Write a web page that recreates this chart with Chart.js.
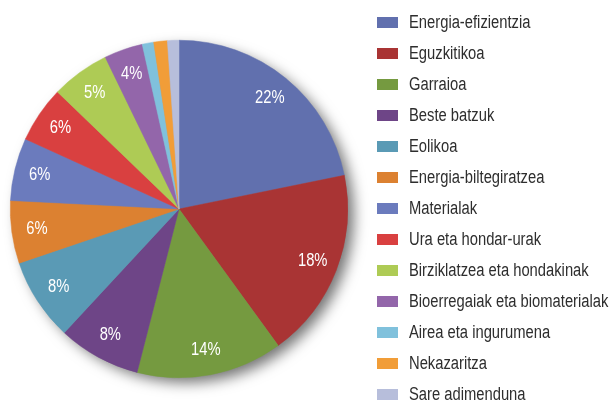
<!DOCTYPE html>
<html>
<head>
<meta charset="utf-8">
<script src="https://cdn.jsdelivr.net/npm/chart.js@4"></script>
<style>
  html, body { margin: 0; padding: 0; background: #fff; }
  #wrap { width: 611px; height: 403px; position: relative; }
</style>
</head>
<body>
<div id="wrap"><canvas id="pie"></canvas></div>
<script>
// categories (legend order = slice order, clockwise from 12 o'clock)
const categories = [
  "Energia-efizientzia", "Eguzkitikoa", "Garraioa", "Beste batzuk", "Eolikoa",
  "Energia-biltegiratzea", "Materialak", "Ura eta hondar-urak",
  "Birziklatzea eta hondakinak", "Bioerregaiak eta biomaterialak",
  "Airea eta ingurumena", "Nekazaritza", "Sare adimenduna"
];
// slice shares (%)
const shares = [21.8, 18.2, 14, 7.9, 7.9, 6, 6, 5.4, 5.6, 3.7, 1.1, 1.3, 1.1];
// printed labels on the slices
const sliceLabels = ["22%", "18%", "14%", "8%", "8%", "6%", "6%", "6%", "5%", "4%", "", "", ""];
const colors = [
  "#6170ae", "#a93434", "#759a40", "#6e4587", "#5a9ab5", "#dc8131", "#6b7bbd",
  "#d94040", "#aecb55", "#9366aa", "#80c1dc", "#f19d38", "#b7bedb"
];

const fontFamily = '"Liberation Sans", Arial, sans-serif';
const squeeze = 0.82; // condensed look

// draw horizontally squeezed text
function narrowText(ctx, txt, x, y) {
  ctx.save();
  ctx.translate(x, y);
  ctx.scale(squeeze, 1);
  ctx.fillText(txt, 0, 0);
  ctx.restore();
}

// soft drop shadow under the whole pie
const shadowPlugin = {
  id: "pieShadow",
  beforeDatasetsDraw(chart) {
    const arc = chart.getDatasetMeta(0).data[0];
    if (!arc) return;
    const ctx = chart.ctx;
    ctx.save();
    ctx.shadowColor = "rgba(0,0,0,0.55)";
    ctx.shadowBlur = 14;
    ctx.shadowOffsetX = 7;
    ctx.shadowOffsetY = 6;
    ctx.fillStyle = "#999";
    ctx.beginPath();
    ctx.arc(arc.x, arc.y, arc.outerRadius - 1, 0, Math.PI * 2);
    ctx.fill();
    ctx.restore();
  }
};

// percentage text inside slices
const sliceLabelPlugin = {
  id: "sliceLabels",
  afterDatasetsDraw(chart) {
    const ctx = chart.ctx;
    const meta = chart.getDatasetMeta(0);
    ctx.save();
    ctx.fillStyle = "#fff";
    ctx.font = "18px " + fontFamily;
    ctx.textAlign = "center";
    ctx.textBaseline = "middle";
    meta.data.forEach((arc, i) => {
      const txt = sliceLabels[i];
      if (!txt) return;
      const mid = (arc.startAngle + arc.endAngle) / 2;
      const r = arc.outerRadius * 0.85;
      narrowText(ctx, txt, arc.x + Math.cos(mid) * r, arc.y + Math.sin(mid) * r);
    });
    ctx.restore();
  }
};

// legend column on the right
const legendPlugin = {
  id: "sideLegend",
  afterDraw(chart) {
    const ctx = chart.ctx;
    const x0 = 377, y0 = 22, step = 31;
    ctx.save();
    ctx.font = "18px " + fontFamily;
    ctx.textBaseline = "middle";
    ctx.textAlign = "left";
    chart.data.labels.forEach((lab, i) => {
      const y = y0 + i * step;
      ctx.fillStyle = colors[i];
      ctx.fillRect(x0, y - 5, 21, 11);
      ctx.fillStyle = "#2e2e2e";
      narrowText(ctx, lab, 409, y + 1);
    });
    ctx.restore();
  }
};

new Chart(document.getElementById("pie"), {
  type: "pie",
  data: {
    labels: categories,
    datasets: [{
      data: shares,
      backgroundColor: colors,
      borderColor: colors,
      borderWidth: 0.5
    }]
  },
  options: {
    responsive: true,
    maintainAspectRatio: false,
    animation: false,
    layout: { padding: { left: 10, right: 263, top: 40, bottom: 25 } },
    plugins: {
      legend: { display: false },
      tooltip: { enabled: false }
    }
  },
  plugins: [shadowPlugin, sliceLabelPlugin, legendPlugin]
});
</script>
</body>
</html>
